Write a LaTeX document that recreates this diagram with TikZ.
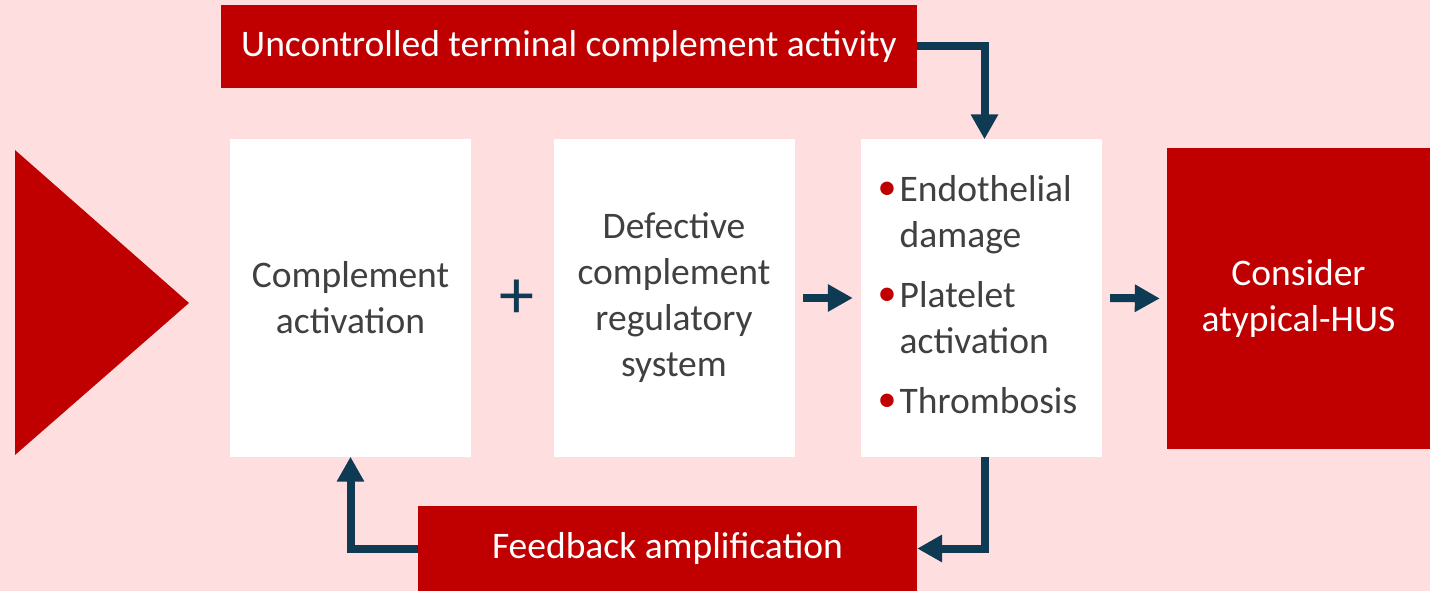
\documentclass[tikz,border=0pt]{standalone}
\usepackage{fontspec}
\setmainfont{Carlito}
\usetikzlibrary{positioning}
\usetikzlibrary{arrows.meta}

\definecolor{hred}{RGB}{192,0,0}
\definecolor{hpink}{RGB}{255,222,223}
\definecolor{hnavy}{RGB}{14,58,84}
\definecolor{hgray}{RGB}{64,64,64}

\newcommand{\redbul}{\raisebox{2pt}{\textcolor{hred}{\fontsize{38}{38}\selectfont\textbullet}}}

\tikzset{
	redbox/.style = {fill = hred, text = white, inner sep = 0pt, align = center, font = \fontsize{37.5}{46}\selectfont},
	whitebox/.style = {fill = white, text = hgray, inner sep = 0pt, align = center, minimum width = 241pt, minimum height = 317pt, font = \fontsize{37.5}{46}\selectfont},
	flow/.style = {hnavy, line width = 8pt, -{Triangle[length = 25pt, width = 26pt]}},
}

\begin{document}
\begin{tikzpicture}[x = 1pt, y = -1pt]
	\fill [hpink] (0, 0) rectangle (1430, 591);
	\useasboundingbox (0, 0) rectangle (1430, 591);
	\fill [hred] (15, 150) -- (189, 303) -- (15, 455) -- cycle;
	\node [redbox, minimum width = 696pt, minimum height = 83pt] (uncontrolled) at (569, 46.5) {Uncontrolled terminal complement activity};
	\node [whitebox] (activation) at (350.5, 298) {Complement\\activation};
	\node [text = hnavy, inner sep = 0pt, font = \fontsize{70}{70}\selectfont] (plus) at (517, 299) {+};
	\node [whitebox] (defective) at (674, 298) {Defective\\complement\\regulatory\\system};
	\node [whitebox] (lesion) at (981.5, 298) {\hspace*{-8pt}\begin{tabular}{@{}l@{\hspace{3pt}}l@{}}
			\redbul & Endothelial \\
			& damage \\[14pt]
			\redbul & Platelet \\
			& activation \\[14pt]
			\redbul & Thrombosis
		\end{tabular}};
	\node [redbox, minimum width = 263pt, minimum height = 301pt] (hus) at (1298.5, 298.5) {Consider\\atypical-HUS};
	\node [redbox, minimum width = 499pt, minimum height = 85pt] (feedback) at (667.5, 548.5) {Feedback amplification};
	% connectors
	\draw [flow] (uncontrolled.east) -| ([xshift = 3pt] lesion.north);
	\draw [flow, shorten <= 8pt, shorten >= 8pt] (defective.east) -- (lesion.west);
	\draw [flow, shorten <= 8pt, shorten >= 7pt] (lesion.east) -- (hus.west);
	\draw [flow] ([xshift = 3pt] lesion.south) |- (feedback.east);
	\draw [flow] (feedback.west) -| (activation.south);
\end{tikzpicture}
\end{document}
